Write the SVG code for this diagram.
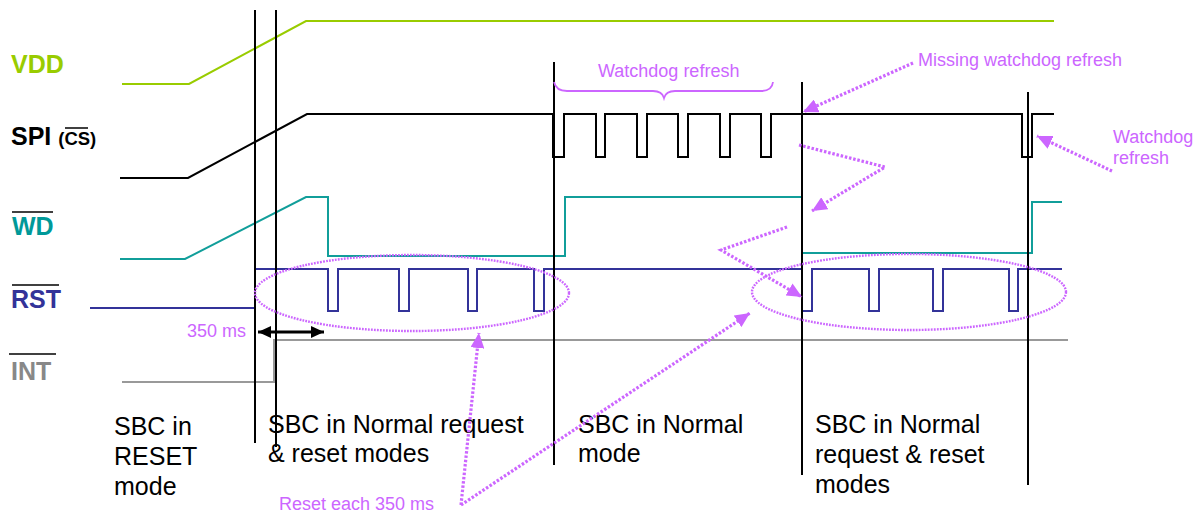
<svg xmlns="http://www.w3.org/2000/svg" width="1200" height="514" viewBox="0 0 1200 514">
<style>
.sig{fill:none;stroke-width:2;stroke-linejoin:miter}
.vl{stroke:#000;stroke-width:2}
.lbl{font-family:"Liberation Sans",Arial,sans-serif;font-weight:bold;font-size:25px}
.mode{font-family:"Liberation Sans",Arial,sans-serif;font-size:25px;fill:#000}
.ann{font-family:"Liberation Sans",Arial,sans-serif;font-size:18px;fill:#cc66ff}
.dot{fill:none;stroke:#cc66ff;stroke-width:3.2;stroke-dasharray:2.5 1.8}
.ell{fill:none;stroke:#cc66ff;stroke-width:2.4;stroke-dasharray:1.8 1.2}
</style>
<defs>
<marker id="vh" markerUnits="userSpaceOnUse" markerWidth="16" markerHeight="14" refX="15" refY="7" orient="auto">
<path d="M0,0 L15,7 L0,14 Z" fill="#cc66ff"/>
</marker>
<marker id="bh" markerUnits="userSpaceOnUse" markerWidth="14" markerHeight="12" refX="13" refY="6" orient="auto-start-reverse">
<path d="M0,0 L13,6 L0,12 Z" fill="#000"/>
</marker>
</defs>
<rect width="1200" height="514" fill="#fff"/>

<g id="labels">
<text class="lbl" x="11" y="73" fill="#99cc00">VDD</text>
<text class="lbl" x="11" y="145" fill="#000">SPI <tspan font-size="18.5">(CS)</tspan></text>
<line x1="65" y1="128" x2="88" y2="128" stroke="#000" stroke-width="1.5"/>
<text class="lbl" x="12" y="235" fill="#009999">WD</text>
<line x1="12" y1="212" x2="53" y2="212" stroke="#000" stroke-width="1.5"/>
<text class="lbl" x="11" y="308" fill="#333399">RST</text>
<line x1="12" y1="285" x2="59" y2="285" stroke="#000" stroke-width="1.5"/>
<text class="lbl" x="11" y="380" fill="#888888">INT</text>
<line x1="9" y1="354" x2="56" y2="354" stroke="#000" stroke-width="1.5"/>
</g>

<g id="signals">
<path id="vdd" class="sig" stroke="#99cc00" d="M122,84 L189,84 L306,21 L1054,21"/>
<path id="spi" class="sig" stroke="#000" d="M120,178 L188,178 L307,114 L553,114 L553,157 L564,157 L564,114 L596,114 L596,157 L605,157 L605,114 L637,114 L637,157 L647,157 L647,114 L678,114 L678,157 L688,157 L688,114 L720,114 L720,157 L730,157 L730,114 L761,114 L761,157 L771,157 L771,114 L1022,114 L1022,157 L1032,157 L1032,114 L1054,114"/>
<path id="wd" class="sig" stroke="#119e9a" d="M120,259 L185,259 L306,197 L328,197 L328,256 L565,256 L565,197 L802,197 L802,253 L1032,253 L1032,202 L1062,202"/>
<path id="rst" class="sig" stroke="#333399" d="M90,308 L255,308 L255,269 L328,269 L328,311 L338,311 L338,269 L399,269 L399,311 L409,311 L409,269 L468,269 L468,311 L477,311 L477,269 L534,269 L534,311 L544,311 L544,269 L802,269 L802,311 L812,311 L812,269 L869,269 L869,311 L879,311 L879,269 L933,269 L933,311 L943,311 L943,269 L1009,269 L1009,311 L1018,311 L1018,269 L1062,269"/>
<path id="int" class="sig" stroke="#999999" d="M122,382 L274,382 L274,340 L1068,340"/>
</g>

<g id="boundaries">
<line class="vl" x1="255" y1="10" x2="255" y2="443"/>
<line class="vl" x1="276" y1="10" x2="276" y2="447"/>
<line class="vl" x1="554" y1="62" x2="554" y2="465"/>
<line class="vl" x1="802" y1="82" x2="802" y2="475"/>
<line class="vl" x1="1028" y1="92" x2="1028" y2="485"/>
</g>

<g id="modes">
<text class="mode" x="114" y="435">SBC in</text>
<text class="mode" x="114" y="465">RESET</text>
<text class="mode" x="114" y="495">mode</text>
<text class="mode" x="268" y="433">SBC in Normal request</text>
<text class="mode" x="268" y="462">&amp; reset modes</text>
<text class="mode" x="578" y="433">SBC in Normal</text>
<text class="mode" x="578" y="462">mode</text>
<text class="mode" x="815" y="433">SBC in Normal</text>
<text class="mode" x="815" y="463">request &amp; reset</text>
<text class="mode" x="815" y="493">modes</text>
</g>

<g id="timing">
<line x1="258" y1="332" x2="324" y2="332" stroke="#000" stroke-width="3" marker-start="url(#bh)" marker-end="url(#bh)"/>
<text class="ann" x="246" y="337" text-anchor="end">350 ms</text>
</g>

<g id="annotations">
<text class="ann" x="598" y="77">Watchdog refresh</text>
<path d="M554,82 Q556,91 567,91 L653,91 Q662,91 664,98 Q666,91 675,91 L761,91 Q772,91 773,82" fill="none" stroke="#cc66ff" stroke-width="1.8"/>
<text class="ann" x="918" y="66">Missing watchdog refresh</text>
<text class="ann" x="1113" y="143">Watchdog</text>
<text class="ann" x="1113" y="164">refresh</text>
<text class="ann" x="279" y="510">Reset each 350 ms</text>
<ellipse class="ell" cx="412" cy="293" rx="157" ry="38"/>
<ellipse class="ell" cx="909" cy="292" rx="157" ry="38"/>
</g>

<g id="connectors">
<path class="dot" d="M913,63 L803,112" marker-end="url(#vh)"/>
<path class="dot" d="M1112,171 L1037,136" marker-end="url(#vh)"/>
<path class="dot" d="M799,145 L885,167 L812,211" marker-end="url(#vh)"/>
<path class="dot" d="M787,227 L721,250 L802,297" marker-end="url(#vh)"/>
<path class="dot" d="M461,505 L479,333" marker-end="url(#vh)"/>
<path class="dot" d="M461,505 L750,313" marker-end="url(#vh)"/>
</g>
</svg>
